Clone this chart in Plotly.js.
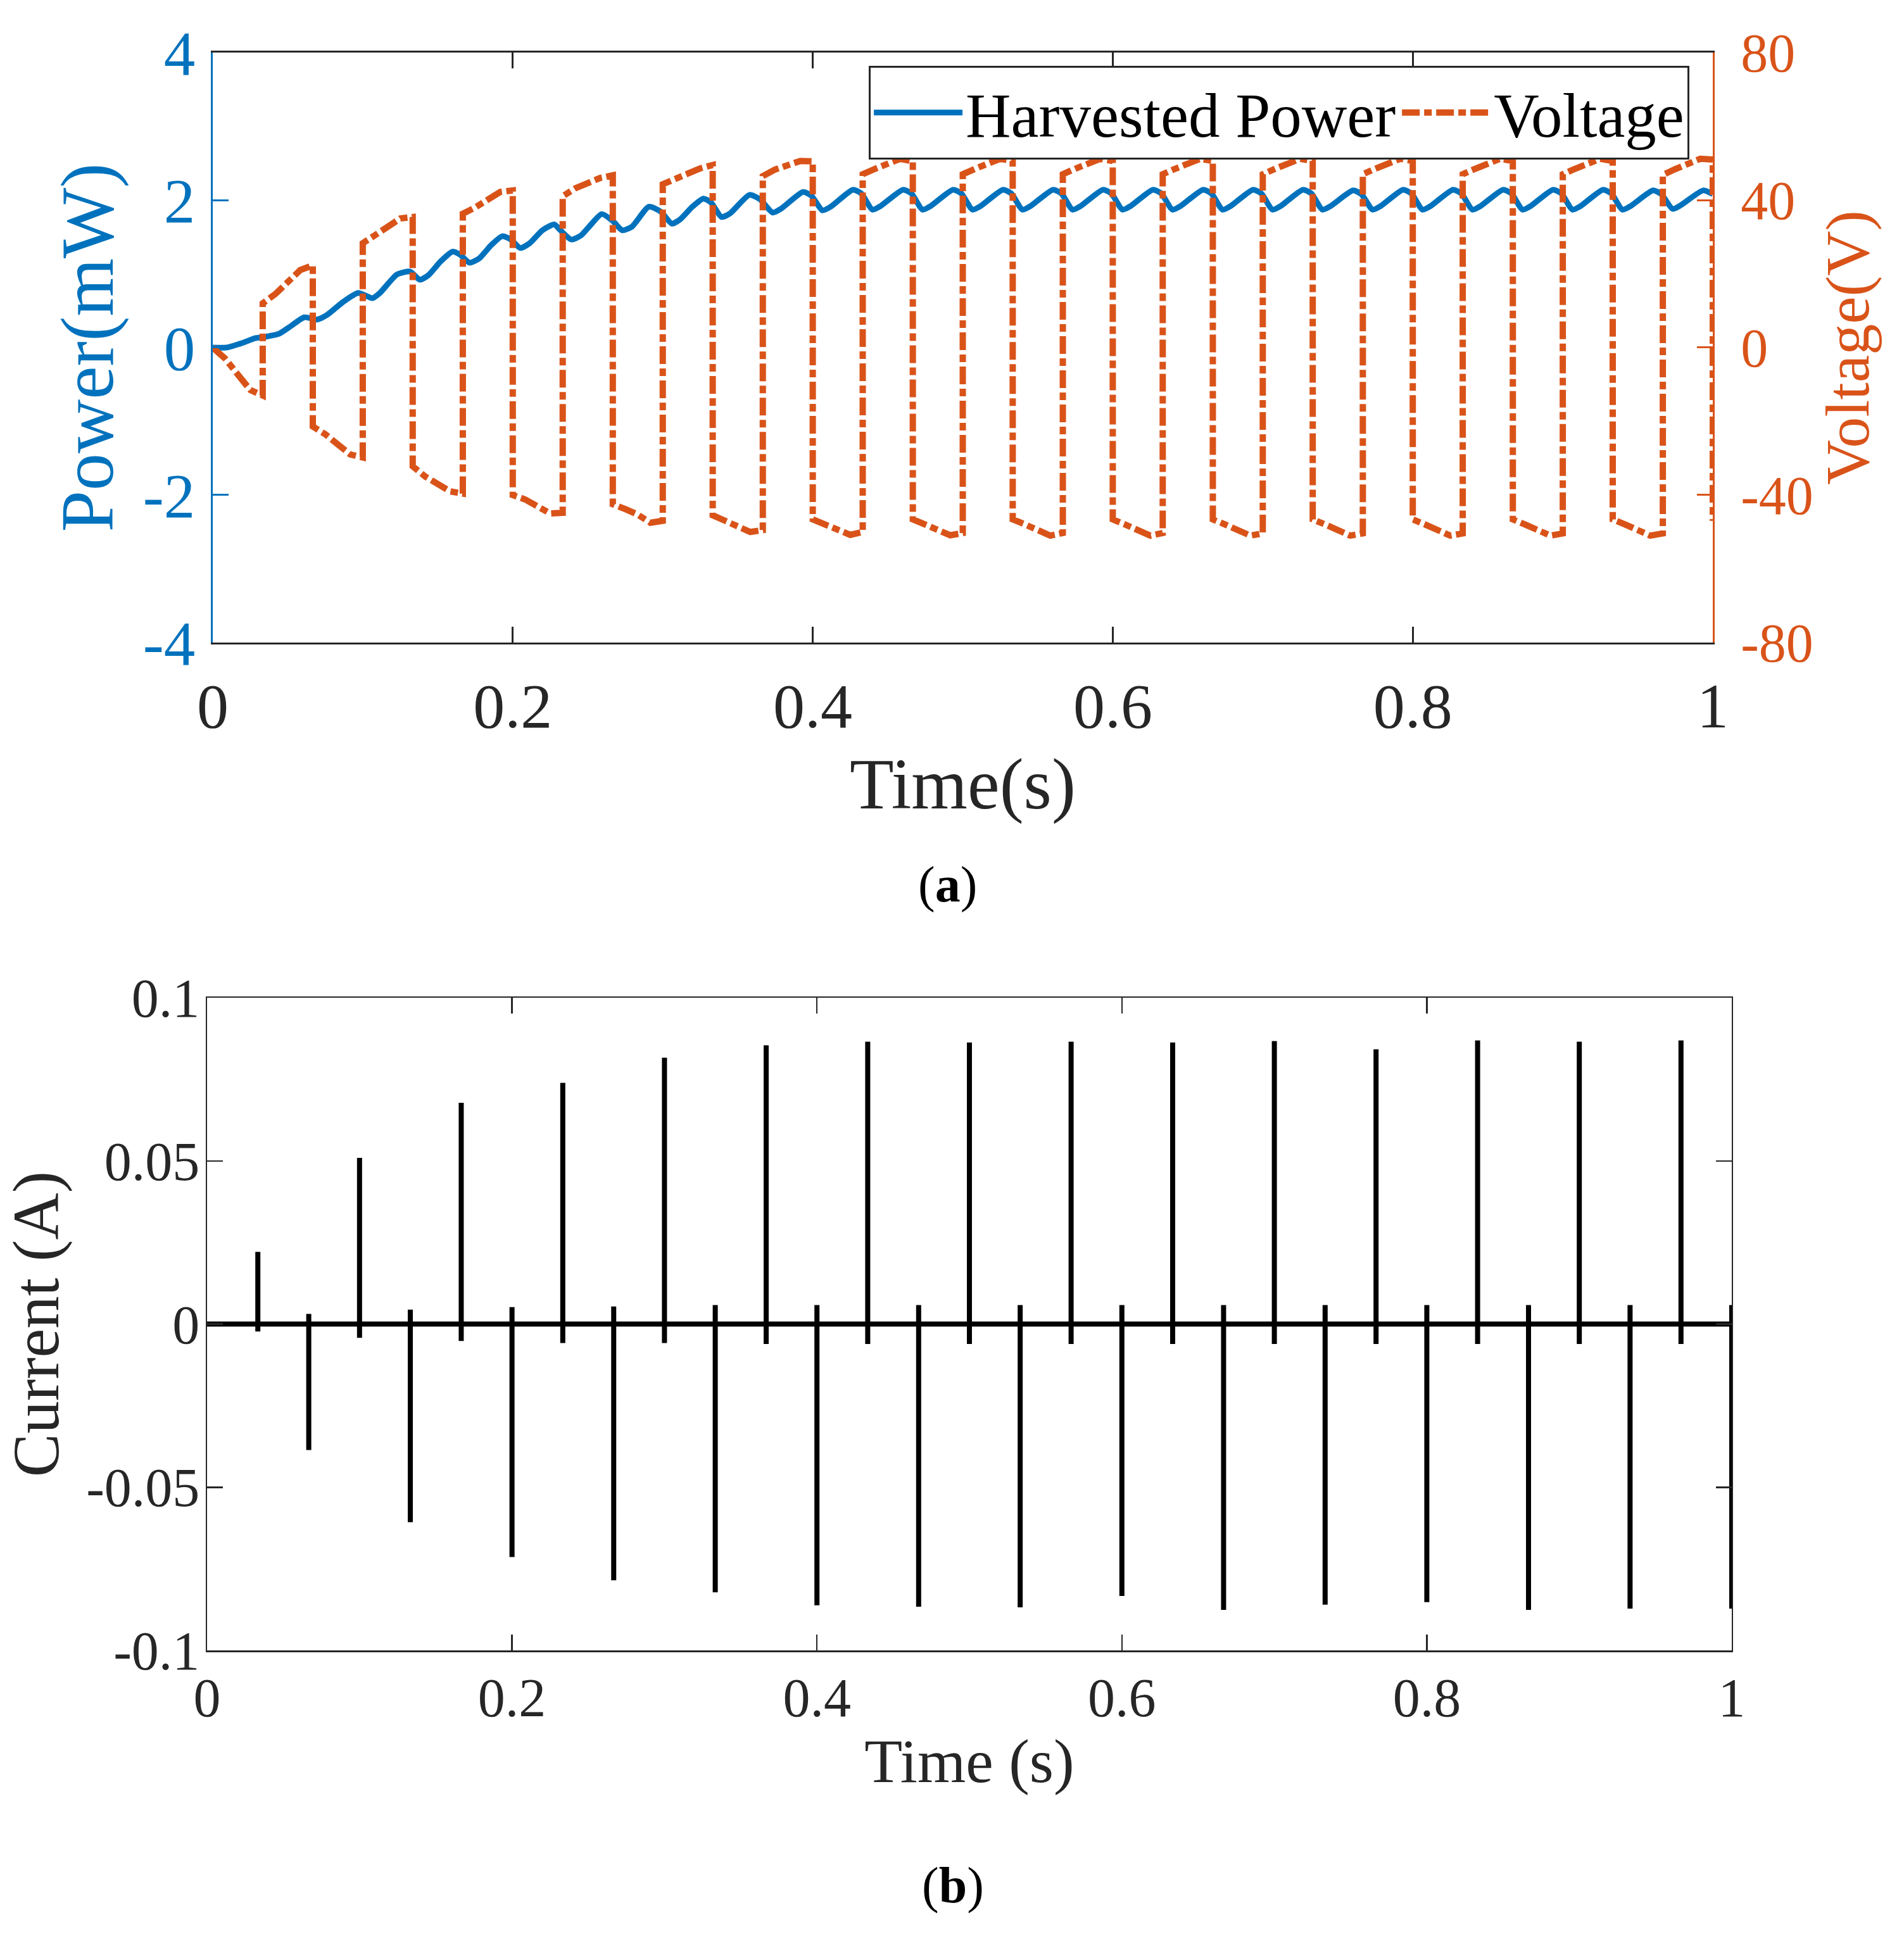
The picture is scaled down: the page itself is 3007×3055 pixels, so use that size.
<!DOCTYPE html>
<html>
<head>
<meta charset="utf-8">
<script src="https://cdn.plot.ly/plotly-3.0.1.min.js"></script>
<style>html,body{margin:0;padding:0;background:#fff;}</style>
</head>
<body>
<div id="chart" style="width:3007px;height:3055px;"></div>
<script>
// ---------- (a) Harvested power (mW) ----------
const powerTime = [0, 0.009, 0.020, 0.028, 0.036, 0.044, 0.052, 0.061, 0.0695, 0.076, 0.087, 0.097, 0.1065,
  0.1114, 0.1228, 0.1316, 0.138, 0.1437, 0.1518, 0.1599, 0.1648, 0.1712, 0.1777, 0.1857, 0.193, 0.1987,
  0.2051, 0.2116, 0.2197, 0.2277, 0.2318, 0.239, 0.2455, 0.252, 0.2593, 0.2665, 0.273, 0.2795, 0.2908,
  0.2988, 0.3061, 0.3117, 0.3198, 0.3271, 0.332, 0.3392, 0.3449, 0.3578, 0.3648, 0.3732, 0.3787,
  0.3935, 0.399, 0.4065, 0.412, 0.4268, 0.4323, 0.4398, 0.4453, 0.4602, 0.4657, 0.4732, 0.4787,
  0.4935, 0.499, 0.5065, 0.512, 0.5268, 0.5323, 0.5398, 0.5453, 0.5602, 0.5657, 0.5732, 0.5787,
  0.5935, 0.599, 0.6065, 0.612, 0.6268, 0.6323, 0.6398, 0.6453, 0.6602, 0.6657, 0.6732, 0.6787,
  0.6935, 0.699, 0.7065, 0.712, 0.7268, 0.7323, 0.7398, 0.7453, 0.7602, 0.7657, 0.7732, 0.7787,
  0.7935, 0.799, 0.8065, 0.812, 0.8268, 0.8323, 0.8398, 0.8453, 0.8602, 0.8657, 0.8732, 0.8787,
  0.8935, 0.899, 0.9065, 0.912, 0.9268, 0.9323, 0.9398, 0.9453, 0.9602, 0.9657, 0.9732, 0.9787,
  0.9935, 1.0];
const powerValue = [0, 0, 0.065, 0.125, 0.15, 0.185, 0.29, 0.41, 0.38, 0.44, 0.62, 0.74, 0.67,
  0.74, 0.99, 1.03, 0.92, 0.98, 1.165, 1.30, 1.26, 1.15, 1.21, 1.39, 1.51, 1.465,
  1.35, 1.42, 1.59, 1.67, 1.59, 1.465, 1.52, 1.665, 1.81, 1.72, 1.59, 1.64, 1.91,
  1.84, 1.68, 1.74, 1.91, 2.02, 1.97, 1.77, 1.82, 2.07, 2.01, 1.83, 1.88,
  2.11, 2.06, 1.86, 1.91, 2.14, 2.09, 1.87, 1.92, 2.14, 2.09, 1.87, 1.92,
  2.14, 2.09, 1.87, 1.92, 2.14, 2.09, 1.87, 1.92, 2.14, 2.09, 1.87, 1.92,
  2.14, 2.09, 1.87, 1.92, 2.14, 2.09, 1.87, 1.92, 2.14, 2.09, 1.87, 1.92,
  2.14, 2.09, 1.87, 1.92, 2.14, 2.09, 1.87, 1.92, 2.13, 2.08, 1.87, 1.92,
  2.14, 2.09, 1.87, 1.92, 2.14, 2.09, 1.87, 1.92, 2.14, 2.09, 1.87, 1.92,
  2.14, 2.09, 1.87, 1.92, 2.14, 2.09, 1.87, 1.92, 2.13, 2.08, 1.88, 1.93,
  2.13, 2.08];

// ---------- (a) Voltage (V) ----------
const voltTime = [
  0, 0.0083, 0.0167, 0.025, 0.0333,
  0.0333, 0.0417, 0.05, 0.0583, 0.0667,
  0.0667, 0.075, 0.0833, 0.0917, 0.1,
  0.1, 0.1083, 0.1167, 0.125, 0.1333,
  0.1333, 0.1417, 0.15, 0.1583, 0.1667,
  0.1667, 0.175, 0.1833, 0.1917, 0.2,
  0.2, 0.2083, 0.2167, 0.225, 0.2333,
  0.2333, 0.2417, 0.25, 0.2583, 0.2667,
  0.2667, 0.275, 0.2833, 0.2917, 0.3,
  0.3, 0.3083, 0.3167, 0.325, 0.3333,
  0.3333, 0.3417, 0.35, 0.3583, 0.3667,
  0.3667, 0.375, 0.3833, 0.3917, 0.4,
  0.4, 0.4083, 0.4167, 0.425, 0.4333,
  0.4333, 0.4417, 0.45, 0.4583, 0.4667,
  0.4667, 0.475, 0.4833, 0.4917, 0.5,
  0.5, 0.5083, 0.5167, 0.525, 0.5333,
  0.5333, 0.5417, 0.55, 0.5583, 0.5667,
  0.5667, 0.575, 0.5833, 0.5917, 0.6,
  0.6, 0.6083, 0.6167, 0.625, 0.6333,
  0.6333, 0.6417, 0.65, 0.6583, 0.6667,
  0.6667, 0.675, 0.6833, 0.6917, 0.7,
  0.7, 0.7083, 0.7167, 0.725, 0.7333,
  0.7333, 0.7417, 0.75, 0.7583, 0.7667,
  0.7667, 0.775, 0.7833, 0.7917, 0.8,
  0.8, 0.8083, 0.8167, 0.825, 0.8333,
  0.8333, 0.8417, 0.85, 0.8583, 0.8667,
  0.8667, 0.875, 0.8833, 0.8917, 0.9,
  0.9, 0.9083, 0.9167, 0.925, 0.9333,
  0.9333, 0.9417, 0.95, 0.9583, 0.9667,
  0.9667, 0.975, 0.9833, 0.9917, 1.0,
  1.0];
const voltValue = [
  0, -3.0, -7.3, -11.5, -13.0,
  12.0, 14.5, 18.0, 21.0, 22.3,
  -21.4, -23.5, -26.3, -29.0, -29.8,
  28.3, 30.5, 33.0, 35.0, 35.4,
  -32.2, -35.0, -37.0, -39.0, -39.6,
  36.3, 38.0, 40.0, 42.2, 42.6,
  -40.0, -41.2, -43.2, -45.0, -44.8,
  41.0, 43.2, 44.5, 46.0, 46.7,
  -42.5, -43.8, -45.3, -47.5, -47.0,
  44.3, 45.8, 47.0, 48.6, 49.5,
  -45.5, -47.0, -48.5, -50.0, -49.5,
  46.5, 48.3, 49.5, 50.6, 50.5,
  -46.6, -48.0, -49.3, -50.8, -50.0,
  47.0, 48.5, 50.0, 51.2, 50.5,
  -46.6, -48.0, -49.5, -50.9, -50.3,
  47.0, 48.5, 50.0, 51.2, 50.6,
  -46.6, -48.0, -49.5, -51.0, -50.3,
  47.0, 48.5, 50.0, 51.2, 50.6,
  -46.6, -48.0, -49.5, -51.0, -50.3,
  47.0, 48.5, 50.0, 51.2, 50.6,
  -46.6, -48.0, -49.5, -51.0, -50.4,
  47.0, 48.5, 50.0, 51.2, 50.6,
  -46.6, -48.0, -49.5, -51.0, -50.4,
  47.0, 48.5, 50.0, 51.2, 50.6,
  -46.6, -48.0, -49.5, -51.0, -50.4,
  47.0, 48.5, 50.0, 51.2, 50.6,
  -46.6, -48.0, -49.5, -51.0, -50.4,
  47.0, 48.5, 50.0, 51.2, 50.6,
  -46.6, -48.0, -49.5, -51.0, -50.4,
  46.8, 48.4, 50.0, 51.2, 51.0,
  -47.0];

// ---------- (b) Current (A): switching instants, spike peak and rebound ----------
const switchTime = [0.0333, 0.0667, 0.1, 0.1333, 0.1667, 0.2, 0.2333, 0.2667, 0.3, 0.3333,
  0.3667, 0.4, 0.4333, 0.4667, 0.5, 0.5333, 0.5667, 0.6, 0.6333, 0.6667,
  0.7, 0.7333, 0.7667, 0.8, 0.8333, 0.8667, 0.9, 0.9333, 0.9667, 1.0];
const currentPeak = [0.0221, -0.0386, 0.0509, -0.0607, 0.0678, -0.0714, 0.0739, -0.0785, 0.0816, -0.0822,
  0.0854, -0.0862, 0.0865, -0.0866, 0.0863, -0.0868, 0.0865, -0.0833, 0.0863, -0.0876,
  0.0867, -0.0860, 0.0842, -0.0852, 0.0869, -0.0876, 0.0865, -0.0872, 0.0869, -0.0872];
const currentRebound = [-0.0023, 0.0031, -0.0042, 0.0044, -0.0052, 0.0052, -0.0058, 0.0054, -0.0058, 0.0058,
  -0.0061, 0.0058, -0.0061, 0.0058, -0.0061, 0.0058, -0.0061, 0.0058, -0.0061, 0.0058,
  -0.0061, 0.0058, -0.0061, 0.0058, -0.0061, 0.0058, -0.0061, 0.0058, -0.0061, 0.0058];

// ---------- tick labels ----------
const timeTicks = [0, 0.2, 0.4, 0.6, 0.8, 1];
const timeTickText = ['0', '0.2', '0.4', '0.6', '0.8', '1'];
const powerTicks = [-4, -2, 0, 2, 4];
const powerTickText = ['-4', '-2', '0', '2', '4'];
const voltTicks = [-80, -40, 0, 40, 80];
const voltTickText = ['-80', '-40', '0', '40', '80'];
const currentTicks = [-0.1, -0.05, 0, 0.05, 0.1];
const currentTickText = ['-0.1', '-0.05', '0', '0.05', '0.1'];

// build the current trace: baseline at zero with a spike at each switching instant
const curX = [0], curY = [0];
for (let i = 0; i < switchTime.length; i++) {
  curX.push(switchTime[i], switchTime[i], switchTime[i], switchTime[i]);
  curY.push(0, currentPeak[i], currentRebound[i], 0);
}

const BLUE = '#0072BD', ORANGE = '#D95319', DARK = '#262626';
const FONT = 'Liberation Serif, Times New Roman, serif';

const traces = [
  {x: powerTime, y: powerValue, xaxis: 'x', yaxis: 'y', type: 'scatter', mode: 'lines',
   name: 'Harvested Power', line: {color: BLUE, width: 9, shape: 'spline', smoothing: 0.6}},
  {x: voltTime, y: voltValue, xaxis: 'x', yaxis: 'y2', type: 'scatter', mode: 'lines',
   name: 'Voltage', line: {color: ORANGE, width: 10, dash: '28px,7px,12px,7px'}},
  {x: curX, y: curY, xaxis: 'x2', yaxis: 'y3', type: 'scatter', mode: 'lines',
   name: 'Current', showlegend: false, line: {color: '#000000', width: 8}}
];

const layout = {
  width: 3007, height: 3055,
  margin: {l: 0, r: 0, t: 0, b: 0},
  paper_bgcolor: '#ffffff', plot_bgcolor: '#ffffff',
  font: {family: FONT, color: DARK},
  showlegend: true,
  legend: {
    x: 0.4563, xanchor: 'left', y: 0.966, yanchor: 'top',
    orientation: 'h', bgcolor: '#ffffff', bordercolor: DARK, borderwidth: 3,
    font: {family: FONT, size: 99, color: '#000000'}, itemwidth: 140, tracegroupgap: 0
  },
  xaxis: {
    domain: [0.11174, 0.89957], anchor: 'y', range: [0, 1],
    tickvals: timeTicks, ticktext: timeTickText,
    ticks: 'inside', ticklen: 25, tickwidth: 3, tickcolor: DARK,
    showline: true, linecolor: DARK, linewidth: 3, mirror: 'ticks',
    showgrid: false, zeroline: false,
    tickfont: {family: FONT, size: 100, color: DARK}, ticklabelstandoff: 11,
    title: {text: 'Time(s)', font: {family: FONT, size: 114, color: DARK}, standoff: 28}
  },
  yaxis: {
    domain: [0.66776, 0.97283], anchor: 'x', range: [-4, 4],
    tickvals: powerTicks, ticktext: powerTickText,
    ticks: 'inside', ticklen: 25, tickwidth: 3, tickcolor: BLUE,
    showline: true, linecolor: BLUE, linewidth: 3,
    showgrid: false, zeroline: false,
    tickfont: {family: FONT, size: 99, color: BLUE}, ticklabelstandoff: 5,
    title: {text: 'Power(mW)', font: {family: FONT, size: 118, color: BLUE}, standoff: 8}
  },
  yaxis2: {
    overlaying: 'y', side: 'right', anchor: 'x', range: [-80, 80],
    tickvals: voltTicks, ticktext: voltTickText,
    ticks: 'inside', ticklen: 25, tickwidth: 3, tickcolor: ORANGE,
    showline: true, linecolor: ORANGE, linewidth: 3,
    showgrid: false, zeroline: false,
    tickfont: {family: FONT, size: 86, color: ORANGE}, ticklabelstandoff: 24,
    title: {text: 'Voltage(V)', font: {family: FONT, size: 98, color: ORANGE}, standoff: 20}
  },
  xaxis2: {
    domain: [0.10875, 0.90954], anchor: 'y3', range: [0, 1],
    tickvals: timeTicks, ticktext: timeTickText,
    ticks: 'inside', ticklen: 25, tickwidth: 2.5, tickcolor: DARK,
    showline: true, linecolor: DARK, linewidth: 2.5, mirror: 'ticks',
    showgrid: false, zeroline: false,
    tickfont: {family: FONT, size: 86, color: DARK}, ticklabelstandoff: -2,
    title: {text: 'Time (s)', font: {family: FONT, size: 98, color: DARK}, standoff: 18}
  },
  yaxis3: {
    domain: [0.14664, 0.48412], anchor: 'x2', range: [-0.1, 0.1],
    tickvals: currentTicks, ticktext: currentTickText,
    ticks: 'inside', ticklen: 25, tickwidth: 2.5, tickcolor: DARK,
    showline: true, linecolor: DARK, linewidth: 2.5, mirror: 'ticks',
    showgrid: false, zeroline: false,
    tickfont: {family: FONT, size: 86, color: DARK}, ticklabelstandoff: -8,
    title: {text: 'Current (A)', font: {family: FONT, size: 103, color: DARK}, standoff: 18}
  },
  annotations: [
    {text: '(<b>a</b>)', xref: 'paper', yref: 'paper', x: 0.4978, y: 0.5427,
     xanchor: 'center', yanchor: 'middle', showarrow: false,
     font: {family: FONT, size: 80, color: '#000000'}},
    {text: '(<b>b</b>)', xref: 'paper', yref: 'paper', x: 0.5005, y: 0.0252,
     xanchor: 'center', yanchor: 'middle', showarrow: false,
     font: {family: FONT, size: 80, color: '#000000'}}
  ]
};

Plotly.newPlot('chart', traces, layout, {displayModeBar: false, staticPlot: true});
</script>
</body>
</html>
